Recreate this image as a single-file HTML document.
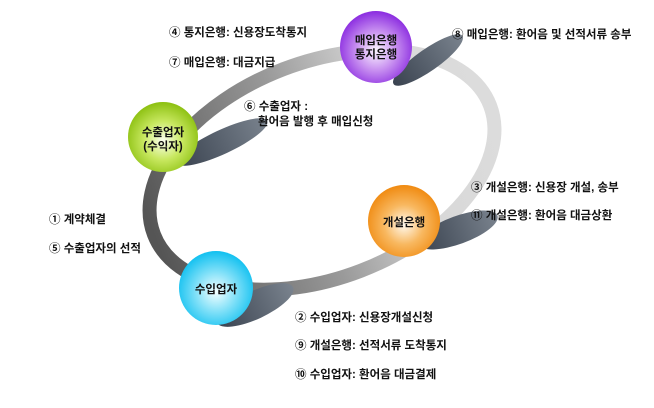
<!DOCTYPE html>
<html><head><meta charset="utf-8"><style>
html,body{margin:0;padding:0;background:#fff;}
svg text{font-family:"Liberation Sans","Noto Sans CJK KR","NanumGothic",sans-serif;font-weight:bold;font-size:11.5px;fill:#111;}
</style></head><body>
<svg width="654" height="403" viewBox="0 0 654 403" xmlns="http://www.w3.org/2000/svg">
<defs>
<linearGradient id="ring" x1="0" y1="0" x2="1" y2="0">
<stop offset="0" stop-color="#555"/><stop offset="0.45" stop-color="#9a9a9a"/><stop offset="0.75" stop-color="#d8d8d8"/><stop offset="1" stop-color="#dcdcdc"/>
</linearGradient>
<radialGradient id="g" cx="0.5" cy="0.55" r="0.55"><stop offset="0" stop-color="#fbfff0"/><stop offset="0.5" stop-color="#c8e860"/><stop offset="1" stop-color="#8cc010"/></radialGradient>
<radialGradient id="p" cx="0.5" cy="0.55" r="0.55"><stop offset="0" stop-color="#fbf5ff"/><stop offset="0.5" stop-color="#c890f0"/><stop offset="1" stop-color="#8a2be0"/></radialGradient>
<radialGradient id="o" cx="0.5" cy="0.55" r="0.55"><stop offset="0" stop-color="#fffaf0"/><stop offset="0.5" stop-color="#f8b860"/><stop offset="1" stop-color="#f08a10"/></radialGradient>
<radialGradient id="b" cx="0.5" cy="0.55" r="0.55"><stop offset="0" stop-color="#f5ffff"/><stop offset="0.5" stop-color="#80e0f8"/><stop offset="1" stop-color="#10c0f0"/></radialGradient>
<linearGradient id="sh" x1="0" y1="0" x2="1" y2="0"><stop offset="0" stop-color="#3a4350"/><stop offset="1" stop-color="#7a838e"/></linearGradient>
</defs>
<ellipse cx="322" cy="170" rx="180" ry="108" transform="rotate(-21 322 170)" fill="none" stroke="url(#ring)" stroke-width="14"/>
<ellipse cx="222" cy="142" rx="50" ry="12" transform="rotate(-25 222 142)" fill="url(#sh)"/>
<ellipse cx="428" cy="60" rx="42" ry="11" transform="rotate(-35 428 60)" fill="url(#sh)"/>
<ellipse cx="458" cy="230" rx="42" ry="14" transform="rotate(-20 458 230)" fill="url(#sh)"/>
<ellipse cx="255" cy="305" rx="42" ry="14" transform="rotate(-25 255 305)" fill="url(#sh)"/>
<circle cx="163" cy="137" r="35" fill="url(#g)"/>
<circle cx="376" cy="47" r="36" fill="url(#p)"/>
<circle cx="404" cy="221" r="36" fill="url(#o)"/>
<circle cx="216" cy="288" r="37" fill="url(#b)"/>
<text x="163" y="136" text-anchor="middle" font-size="12">수출업자</text>
<text x="163" y="150" text-anchor="middle" font-size="12">(수익자)</text>
<text x="376" y="44" text-anchor="middle" font-size="12">매입은행</text>
<text x="376" y="58" text-anchor="middle" font-size="12">통지은행</text>
<text x="404" y="226" text-anchor="middle" font-size="12">개설은행</text>
<text x="216" y="293" text-anchor="middle" font-size="12">수입업자</text>
<text x="169" y="36">④ 통지은행: 신용장도착통지</text>
<text x="169" y="66">⑦ 매입은행: 대금지급</text>
<text x="244" y="110">⑥ 수출업자 :</text>
<text x="258" y="125">환어음 발행 후 매입신청</text>
<text x="452" y="38">⑧ 매입은행: 환어음 및 선적서류 송부</text>
<text x="471" y="191">③ 개설은행: 신용장 개설, 송부</text>
<text x="471" y="219">⑪ 개설은행: 환어음 대금상환</text>
<text x="49" y="223">① 계약체결</text>
<text x="49" y="252">⑤ 수출업자의 선적</text>
<text x="295" y="321">② 수입업자: 신용장개설신청</text>
<text x="295" y="349">⑨ 개설은행: 선적서류 도착통지</text>
<text x="295" y="378">⑩ 수입업자: 환어음 대금결제</text>
</svg>
</body></html>
